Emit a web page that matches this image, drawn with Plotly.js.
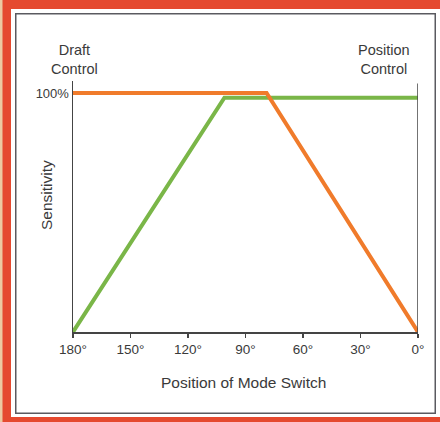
<!DOCTYPE html>
<html>
<head>
<meta charset="utf-8">
<script src="https://cdn.plot.ly/plotly-3.0.1.min.js"></script>
<style>
  html, body { margin: 0; padding: 0; width: 440px; height: 422px; overflow: hidden; background: #ffffff; }
  #chart { position: absolute; left: 0; top: 0; width: 440px; height: 422px; }
</style>
</head>
<body>
<div id="chart"></div>
<script>
// Data
const tickValues = [180, 150, 120, 90, 60, 30, 0];
const tickLabels = ["180°", "150°", "120°", "90°", "60°", "30°", "0°"];
const positionGreen = [180, 101, 0];
const sensitivityGreen = [0, 98, 98];
const positionOrange = [180, 79, 0];
const sensitivityOrange = [100, 100, 0];

const font = "Liberation Sans, Arial, Helvetica, sans-serif";
const W = 440, H = 422, ML = 73, MR = 22, MT = 81, MB = 90;
const pw = W - ML - MR, ph = H - MT - MB;
const px = v => (v - ML) / pw;
const py = v => (H - MB - v) / ph;
function rect(x0, y0, x1, y1, fill, line) {
  return { type: "rect", xref: "paper", yref: "paper", layer: "below",
    x0: px(x0), x1: px(x1), y0: py(y0), y1: py(y1),
    fillcolor: fill, line: line || { width: 0 } };
}
function label(text, x, y, size, angle) {
  return { xref: "paper", yref: "paper", x: px(x), y: py(y), xanchor: "center", yanchor: "middle",
    align: "center", text: text, textangle: angle || 0, showarrow: false,
    font: { size: size, color: "#3a3a3a" } };
}

const traces = [
  { x: positionGreen, y: sensitivityGreen, mode: "lines", line: { color: "#7ab648", width: 4 }, hoverinfo: "skip", cliponaxis: false },
  { x: positionOrange, y: sensitivityOrange, mode: "lines", line: { color: "#f07b2b", width: 4 }, hoverinfo: "skip", cliponaxis: false }
];

const layout = {
  width: W, height: H,
  margin: { l: ML, r: MR, t: MT, b: MB },
  paper_bgcolor: "#ffffff",
  plot_bgcolor: "rgba(0,0,0,0)",
  showlegend: false,
  font: { family: font, color: "#3a3a3a" },
  xaxis: {
    range: [180, 0], autorange: false,
    tickvals: tickValues, ticktext: tickLabels,
    ticks: "outside", ticklen: 4, tickcolor: "#444", tickwidth: 1.5,
    showline: true, linecolor: "#444", linewidth: 1.5,
    showgrid: false, zeroline: false,
    tickfont: { size: 13.5, color: "#3a3a3a" }
  },
  yaxis: {
    range: [0, 105], autorange: false,
    tickvals: [100], ticktext: ["100%"],
    ticks: "", showline: true, linecolor: "#444", linewidth: 1.5,
    showgrid: false, zeroline: false,
    tickfont: { size: 13, color: "#3a3a3a" }
  },
  shapes: [
    rect(2, 0, 11, 430, "#e5492f"),
    rect(0, 0, 450, 9, "#e5492f"),
    rect(0, 417, 450, 430, "#e5492f"),
    rect(0, 0, 2.5, 430, "#ecc9a2"),
    rect(15.75, 13.75, 435.25, 413.25, "#ffffff", { color: "#5a5a60", width: 1.5 }),
    { type: "line", xref: "x", yref: "y", x0: 0, x1: 0, y0: 0, y1: 104, line: { color: "#444", width: 1.5 } }
  ],
  annotations: [
    label("Draft<br>Control", 74, 59, 14.5),
    label("Position<br>Control", 384, 59.5, 14.5),
    label("Position of Mode Switch", 243, 382, 15.5),
    label("Sensitivity", 46, 195, 15.5, -90)
  ]
};

Plotly.newPlot("chart", traces, layout, { staticPlot: true, displayModeBar: false });
</script>
</body>
</html>
